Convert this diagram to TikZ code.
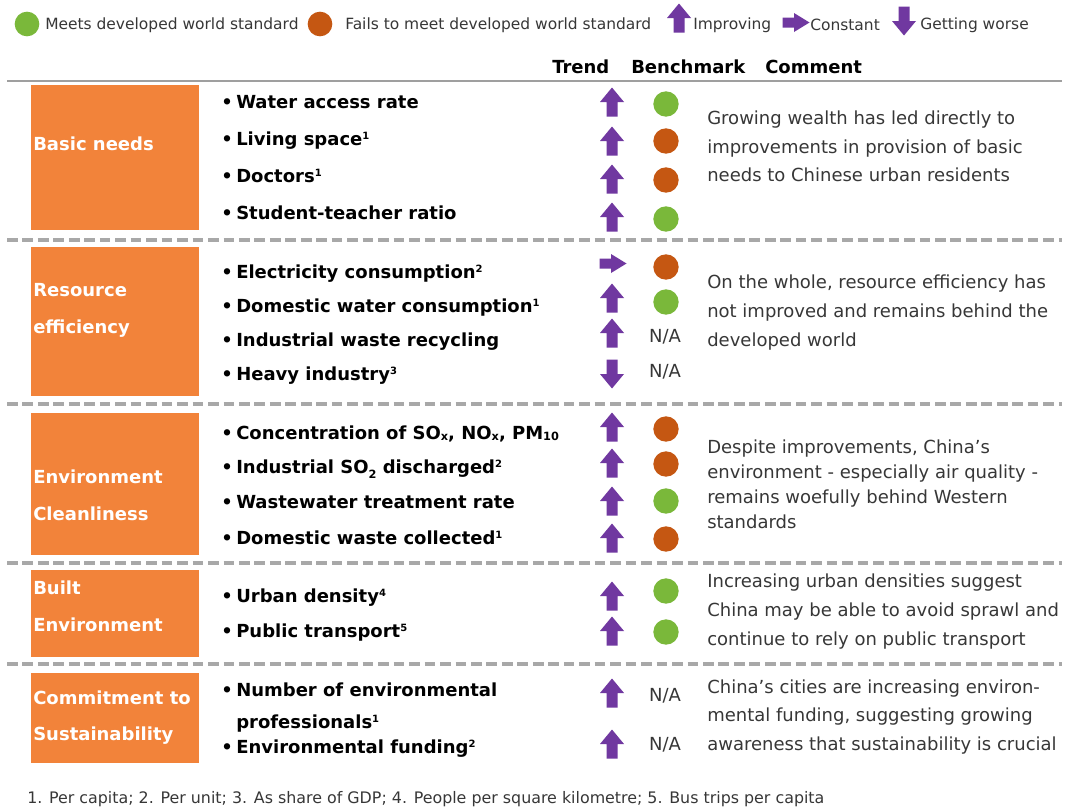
\documentclass[tikz,border=0pt]{standalone}
\usepackage{fontspec}
\setmainfont{DejaVu Sans}
\definecolor{orng}{RGB}{242,131,58}
\definecolor{grn}{RGB}{122,184,58}
\definecolor{badc}{RGB}{197,87,18}
\definecolor{purp}{RGB}{112,56,160}
\definecolor{txt}{RGB}{55,55,55}
\definecolor{sepc}{RGB}{168,168,168}
\newcommand\fnm[1]{\raisebox{0.62ex}{\fontsize{7.5}{8}\selectfont #1}}
\newcommand\sbs[1]{\raisebox{-0.05ex}{\fontsize{8.5}{9}\selectfont #1}}
\newcommand\sbl[1]{\raisebox{-0.45ex}{\fontsize{8.5}{9}\selectfont #1}}
\newcommand\bul{\makebox[11.25pt][l]{\textbullet}}
\tikzset{
  vert/.pic={\fill[purp] (-14.5,-5.5) -- (0,-5.5) -- (0,-12) -- (14.5,0) -- (0,12) -- (0,5.5) -- (-14.5,5.5) -- cycle;},
  horz/.pic={\fill[purp] (-13.5,-5) -- (-2,-5) -- (-2,-9.5) -- (13.5,0) -- (-2,9.5) -- (-2,5) -- (-13.5,5) -- cycle;},
  item/.style={anchor=west, inner sep=0pt, text height=13.2pt, text depth=3pt, text=black, font=\fontsize{13.5}{16}\selectfont\bfseries},
  cmt/.style={anchor=west, inner sep=0pt, align=left, text=txt, font=\fontsize{13.5}{21.4}\selectfont},
  cmtb/.style={cmt, font=\fontsize{13.5}{18.75}\selectfont},
  cat/.style={anchor=west, inner sep=0pt, align=left, text=white, font=\fontsize{13.5}{27.5}\selectfont\bfseries},
  catbox/.style={fill=orng, draw=none},
  good/.style={circle, fill=grn, inner sep=0pt, minimum size=19pt},
  bad/.style={circle, fill=badc, inner sep=0pt, minimum size=19pt},
  na/.style={inner sep=0pt, text=txt, font=\fontsize{13.5}{16}\selectfont},
  hdr/.style={anchor=west, inner sep=0pt, text=black, font=\fontsize{13.5}{16}\selectfont\bfseries},
  sepline/.style={sepc, line width=2.6pt, dash pattern=on 8pt off 3.6pt},
  lgd/.style={anchor=west, inner sep=0pt, text=txt, font=\fontsize{11.6}{14}\selectfont},
  foot/.style={anchor=west, inner sep=0pt, text=txt, font=\fontsize{11.9}{14}\selectfont},
}
\begin{document}
\begin{tikzpicture}[x=0.75pt,y=-0.75pt]
\useasboundingbox[fill=white] (0,0) rectangle (1066,807);

% legend
\node[good, minimum size=18.5pt] (lg) at (27,24) {};
\node[lgd] (lgt) at (45,25) {Meets developed world standard};
\node[bad, minimum size=18.5pt] (lb) at (320,24) {};
\node[lgd] (lbt) at (345,25) {Fails to meet developed world standard};
\pic[rotate=90] (lu) at (679,18) {vert};
\node[lgd] (lut) at (693,25) {Improving};
\pic (lr) at (796,22.5) {horz};
\node[lgd] (lrt) at (810,25) {Constant};
\pic[rotate=-90] (ld) at (904,21) {vert};
\node[lgd] (ldt) at (920,25) {Getting worse};

% header
\node[hdr] (h1) at (552,67) {Trend};
\node[hdr] (h2) at (631,67) {Benchmark};
\node[hdr] (h3) at (765,67) {Comment};
\coordinate (tl) at (7,81);
\coordinate (tr) at (1062,81);
\draw[gray!75, line width=2.2pt] (tl) -- (tr);

% separators
\foreach \yy/\nm in {240/s1,404/s2,563/s3,664/s4}{
  \coordinate (\nm a) at (7,\yy);
  \coordinate (\nm b) at (1062,\yy);
  \draw[sepline] (\nm a) -- (\nm b);
}

% category boxes
\fill[catbox] (30.5,84.5) rectangle (199,230);
\fill[catbox] (30.5,247) rectangle (199,396);
\fill[catbox] (30.5,412.5) rectangle (199,555);
\fill[catbox] (30.5,570) rectangle (199,656.5);
\fill[catbox] (30.5,673) rectangle (199,762.5);
\node[cat] (c1) at (33,144) {Basic needs};
\node[cat] (c2) at (33,310.5) {Resource\\efficiency};
\node[cat] (c3) at (33,495.5) {Environment\\Cleanliness};
\node[cat] (c4) at (33,606) {Built\\Environment};
\node[cat] (c5) at (33,717.5) {Commitment to\\Sustainability};

% items
\foreach \yy/\nm/\tx in {
  102/i1/{\bul Water access rate},
  139/i2/{\bul Living space\fnm{1}},
  176/i3/{\bul Doctors\fnm{1}},
  213/i4/{\bul Student-teacher ratio},
  272/i5/{\bul Electricity consumption\fnm{2}},
  306/i6/{\bul Domestic water consumption\fnm{1}},
  340/i7/{\bul Industrial waste recycling},
  374/i8/{\bul Heavy industry\fnm{3}},
  433/i9/{\bul Concentration of SO\sbs{x}, NO\sbs{x}, PM\sbs{10}},
  467/i10/{\bul Industrial SO\sbl{2} discharged\fnm{2}},
  502/i11/{\bul Wastewater treatment rate},
  538/i12/{\bul Domestic waste collected\fnm{1}},
  596/i13/{\bul Urban density\fnm{4}},
  631/i14/{\bul Public transport\fnm{5}},
  690/i15/{\bul Number of environmental},
  722/i16/{\hspace*{11.25pt}professionals\fnm{1}},
  747/i17/{\bul Environmental funding\fnm{2}}}{
  \node[item] (\nm) at (221,\yy) {\tx};
}

% trend arrows
\foreach \yy/\nm in {102/a1,141/a2,179/a3,217/a4,298/a6,333/a7,427/a9,463/a10,501/a11,538/a12,596/a13,631/a14,693/a15,744/a17}{
  \pic[rotate=90] (\nm) at (612,\yy) {vert};
}
\pic (a5) at (613,263.5) {horz};
\pic[rotate=-90] (a8) at (612,374) {vert};

% benchmarks
\node[good] (b1) at (666,104) {};
\node[bad]  (b2) at (666,141) {};
\node[bad]  (b3) at (666,180) {};
\node[good] (b4) at (666,219) {};
\node[bad]  (b5) at (666,267) {};
\node[good] (b6) at (666,302) {};
\node[na]   (b7) at (665,337) {N/A};
\node[na]   (b8) at (665,372) {N/A};
\node[bad]  (b9) at (666,429) {};
\node[bad]  (b10) at (666,464) {};
\node[good] (b11) at (666,501) {};
\node[bad]  (b12) at (666,539) {};
\node[good] (b13) at (666,591) {};
\node[good] (b14) at (666,632) {};
\node[na]   (b15) at (665,696) {N/A};
\node[na]   (b17) at (665,745) {N/A};

% comments
\node[cmt] (k1) at (707,146.5) {Growing wealth has led directly to\\improvements in provision of basic\\needs to Chinese urban residents};
\node[cmt] (k2) at (707,312.5) {On the whole, resource efficiency has\\not improved and remains behind the\\developed world};
\node[cmtb] (k3) at (707,484.5) {Despite improvements, China’s\\environment - especially air quality -\\remains woefully behind Western\\standards};
\node[cmt] (k4) at (707,611.5) {Increasing urban densities suggest\\China may be able to avoid sprawl and\\continue to rely on public transport};
\node[cmt] (k5) at (707,717) {China’s cities are increasing environ-\\mental funding, suggesting growing\\awareness that sustainability is crucial};

% footnote
\node[foot] (fn) at (27,799) {1. Per capita; 2. Per unit; 3. As share of GDP; 4. People per square kilometre; 5. Bus trips per capita};
\end{tikzpicture}
\end{document}
